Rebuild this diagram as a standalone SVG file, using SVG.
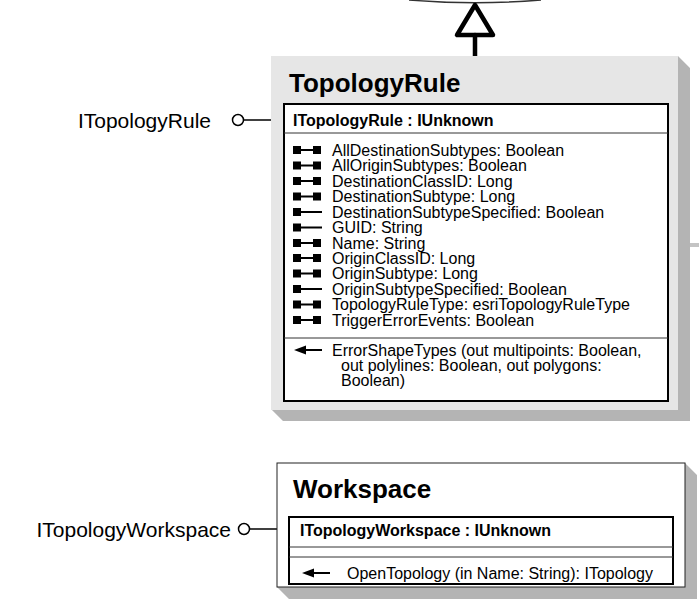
<svg xmlns="http://www.w3.org/2000/svg" width="699" height="605" viewBox="0 0 699 605">
<style>
text{font-family:"Liberation Sans",Arial,sans-serif;fill:#000}
.title{font-size:26px;font-weight:bold}
.hdr{font-size:16px;font-weight:bold}
.m{font-size:16px}
.lbl{font-size:21px}
.shadow{fill:#b4b4b4}
.ibox{fill:#fff;stroke:#000;stroke-width:2}
.sep{stroke:#333;stroke-width:1}
.conn{stroke:#000;stroke-width:1.5;fill:none}
</style>
<defs>
<g id="rw"><rect x="293" y="-4" width="8" height="8" fill="#000"/><rect x="300" y="-1" width="14" height="2" fill="#000"/><rect x="313" y="-4" width="8" height="8" fill="#000"/></g>
<g id="wo"><rect x="293" y="-4" width="8" height="8" fill="#000"/><rect x="300" y="-1" width="22" height="2" fill="#000"/></g>
<g id="meth"><polygon points="0,0 12,-4.5 12,4.5" fill="#000"/><rect x="11" y="-1" width="17" height="2" fill="#000"/></g>
</defs>

<g id="parent-class">
<path d="M409 0 Q475 5.5 541 0" fill="#fff" stroke="#333" stroke-width="1.5"/>
</g>

<g id="connectors">
<polygon points="475,5 457,35 493,35" fill="#fff" stroke="#000" stroke-width="4.5" stroke-linejoin="round"/>
<line x1="475" y1="35" x2="475" y2="58" stroke="#000" stroke-width="4.5" stroke-linecap="round"/>
<line x1="689" y1="245" x2="699" y2="245" stroke="#c4c4c4" stroke-width="4"/>
<circle cx="238" cy="120" r="5.5" fill="#fff" stroke="#000" stroke-width="1.5"/>
<line class="conn" x1="243.5" y1="120" x2="284" y2="120"/>
<circle cx="244" cy="529" r="5.5" fill="#fff" stroke="#000" stroke-width="1.5"/>
<line class="conn" x1="249.5" y1="529" x2="289" y2="529"/>
</g>

<g id="ITopologyRule-label"><text class="lbl" x="211" y="127.5" text-anchor="end">ITopologyRule</text></g>
<g id="ITopologyWorkspace-label"><text class="lbl" x="231" y="536.5" text-anchor="end">ITopologyWorkspace</text></g>

<g id="TopologyRule">
<polygon class="shadow" points="678,56 690,68 690,421 283,421 271,409 678,409"/>
<rect x="271" y="56" width="407" height="354" fill="#e6e6e6"/>
<text class="title" x="289" y="92">TopologyRule</text>
<rect class="ibox" x="284" y="104" width="384" height="297"/>
<line class="sep" x1="284" y1="133" x2="668" y2="133"/>
<line class="sep" x1="284" y1="338" x2="668" y2="338"/>
<text class="hdr" x="293" y="125.5">ITopologyRule : IUnknown</text>
<use href="#rw" y="150"/><text class="m" x="332" y="155.7">AllDestinationSubtypes: Boolean</text>
<use href="#rw" y="165.5"/><text class="m" x="332" y="171.2">AllOriginSubtypes: Boolean</text>
<use href="#rw" y="181"/><text class="m" x="332" y="186.7">DestinationClassID: Long</text>
<use href="#rw" y="196.5"/><text class="m" x="332" y="202.2">DestinationSubtype: Long</text>
<use href="#wo" y="212"/><text class="m" x="332" y="217.7">DestinationSubtypeSpecified: Boolean</text>
<use href="#wo" y="227.5"/><text class="m" x="332" y="233.2">GUID: String</text>
<use href="#rw" y="243"/><text class="m" x="332" y="248.7">Name: String</text>
<use href="#rw" y="258"/><text class="m" x="332" y="263.7">OriginClassID: Long</text>
<use href="#rw" y="273.5"/><text class="m" x="332" y="279.2">OriginSubtype: Long</text>
<use href="#wo" y="289"/><text class="m" x="332" y="294.7">OriginSubtypeSpecified: Boolean</text>
<use href="#rw" y="304.5"/><text class="m" x="332" y="310.2">TopologyRuleType: esriTopologyRuleType</text>
<use href="#rw" y="320"/><text class="m" x="332" y="325.7">TriggerErrorEvents: Boolean</text>
<use href="#meth" x="294" y="350"/>
<text class="m" x="332" y="355.7">ErrorShapeTypes (out multipoints: Boolean,</text>
<text class="m" x="341" y="370.7">out polylines: Boolean, out polygons:</text>
<text class="m" x="341" y="385.7">Boolean)</text>
</g>

<g id="Workspace">
<polygon class="shadow" points="685,463 697,475 697,599 289,599 277,587 685,587"/>
<rect x="277" y="463" width="408" height="124" fill="#fff" stroke="#222" stroke-width="1"/>
<text class="title" x="293" y="498">Workspace</text>
<rect class="ibox" x="289" y="517" width="384" height="67"/>
<line class="sep" x1="289" y1="547" x2="673" y2="547"/>
<line class="sep" x1="289" y1="557" x2="673" y2="557"/>
<text class="hdr" x="300" y="535.5">ITopologyWorkspace : IUnknown</text>
<use href="#meth" x="302" y="573"/>
<text class="m" x="347" y="578.7">OpenTopology (in Name: String): ITopology</text>
</g>
</svg>
